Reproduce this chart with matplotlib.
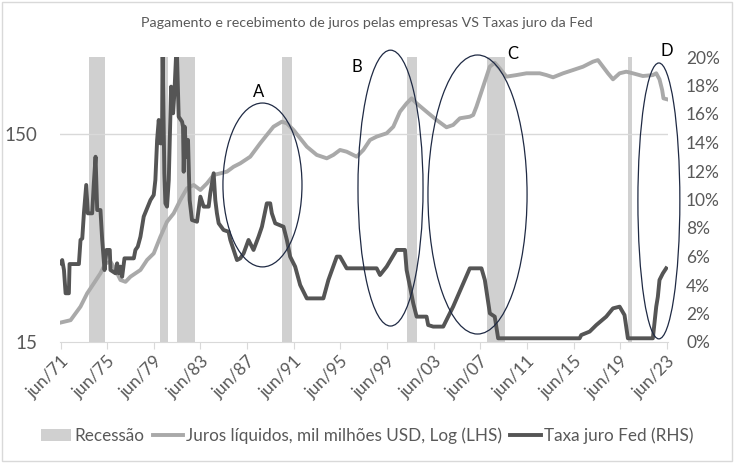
import matplotlib
matplotlib.use("Agg")
import matplotlib.pyplot as plt
from matplotlib.patches import Ellipse, Patch, Rectangle
from matplotlib.lines import Line2D
from matplotlib.ticker import FixedLocator, FuncFormatter

plt.rcParams['font.family'] = ['Lato', 'DejaVu Sans']

TITLE = "Pagamento e recebimento de juros pelas empresas VS Taxas juro da Fed"

# Net interest, billion USD (log, LHS)
juros_anos = [1971.50, 1972.36, 1973.21, 1973.78, 1974.35, 1974.92, 1975.35, 1975.78,
              1976.21, 1976.64, 1977.07, 1977.49, 1978.35, 1978.92, 1979.49, 1980.06,
              1980.63, 1981.20, 1981.77, 1982.34, 1982.92, 1983.49, 1984.06, 1984.63,
              1985.20, 1985.77, 1986.34, 1986.91, 1987.77, 1988.62, 1989.19, 1989.76,
              1990.48, 1990.91, 1991.48, 1992.05, 1992.62, 1993.47, 1994.33, 1994.90,
              1995.47, 1996.04, 1996.90, 1997.47, 1998.04, 1998.61, 1999.47, 2000.04,
              2000.61, 2001.18, 2001.61, 2002.04, 2002.89, 2003.75, 2004.60, 2005.17,
              2005.75, 2006.60, 2006.89, 2007.17, 2007.74, 2008.31, 2008.74, 2009.17,
              2009.74, 2010.60, 2011.46, 2012.60, 2013.17, 2013.74, 2014.60, 2015.45,
              2016.31, 2017.16, 2017.59, 2018.02, 2018.45, 2018.88, 2019.45, 2020.02,
              2020.59, 2021.44, 2022.30, 2022.59, 2022.87, 2023.10, 2023.21, 2023.55]
juros_valores = [18.6, 19.1, 22.2, 25.7, 28.7, 32.1, 35.8, 36.5,
                 33.3, 29.8, 29.2, 30.9, 33.3, 37.2, 40.0, 48.1,
                 56.8, 62.3, 72.2, 82.2, 85.3, 80.7, 86.9, 95.3,
                 97.0, 98.9, 104.4, 108.4, 116.7, 135.3, 148.4, 162.6,
                 171.9, 168.8, 156.8, 143.0, 130.4, 119.0, 114.6, 119.0,
                 125.7, 123.3, 116.7, 125.7, 140.4, 145.7, 151.2, 162.6,
                 192.0, 210.6, 222.6, 210.6, 192.0, 175.2, 161.6, 165.8,
                 178.5, 181.7, 185.1, 203.0, 253.0, 316.0, 330.0, 310.0,
                 283.0, 288.0, 293.7, 293.7, 288.0, 281.0, 293.7, 304.5,
                 316.0, 334.0, 340.0, 316.0, 293.7, 274.8, 293.7, 299.0,
                 293.7, 285.0, 288.0, 293.7, 274.8, 244.0, 222.6, 220.0]

# Fed funds rate, % (RHS)
fed_anos = [1971.50, 1971.64, 1971.79, 1971.93, 1972.21, 1972.27, 1973.07, 1973.21,
            1973.36, 1973.50, 1973.70, 1973.84, 1974.21, 1974.35, 1974.50, 1974.64,
            1974.92, 1975.07, 1975.27, 1975.44, 1975.72, 1975.78, 1976.21, 1976.35,
            1976.49, 1976.64, 1976.78, 1976.98, 1977.78, 1977.92, 1978.12, 1978.35,
            1978.63, 1979.21, 1979.49, 1979.63, 1979.78, 1979.92, 1980.06, 1980.20,
            1980.26, 1980.40, 1980.49, 1980.63, 1980.78, 1980.98, 1981.15, 1981.26,
            1981.40, 1981.49, 1981.63, 1981.92, 1982.00, 1982.06, 1982.14, 1982.29,
            1982.43, 1982.57, 1982.77, 1983.20, 1983.49, 1983.77, 1984.20, 1984.34,
            1984.63, 1984.77, 1984.91, 1985.06, 1985.48, 1985.91, 1986.06, 1986.34,
            1986.63, 1986.91, 1987.20, 1987.62, 1988.05, 1988.48, 1988.77, 1989.19,
            1989.48, 1989.62, 1989.91, 1990.62, 1990.91, 1991.19, 1991.62, 1992.05,
            1992.62, 1994.04, 1994.47, 1995.19, 1995.47, 1996.04, 1998.61, 1998.90,
            1999.47, 2000.32, 2001.04, 2001.18, 2001.47, 2001.75, 2002.04, 2002.89,
            2003.03, 2003.46, 2004.32, 2005.17, 2006.60, 2007.60, 2007.89, 2008.32,
            2008.74, 2009.03, 2016.02, 2016.16, 2016.88, 2017.45, 2018.30, 2018.88,
            2019.45, 2019.87, 2020.16, 2022.30, 2022.59, 2022.73, 2022.87, 2023.16,
            2023.44]
fed_taxa = [5.52, 5.75, 5.05, 3.42, 3.42, 5.47, 5.47, 7.16,
            7.27, 9.03, 11.02, 9.03, 9.03, 11.13, 13.0, 9.26,
            9.26, 7.16, 5.05, 6.46, 6.46, 5.05, 4.82, 5.52,
            4.82, 5.29, 4.58, 5.87, 5.87, 6.46, 6.69, 7.39,
            8.80, 9.96, 10.32, 11.37, 14.18, 15.58, 13.94, 13.94,
            20.0, 11.84, 9.73, 9.50, 11.37, 17.92, 16.05, 17.45,
            20.0, 20.0, 15.81, 15.46, 15.11, 11.95, 15.11, 13.0,
            14.18, 9.96, 8.56, 8.44, 10.20, 9.50, 9.50, 10.43,
            11.84, 9.96, 9.03, 8.33, 7.86, 7.74, 7.16, 6.46,
            5.75, 5.87, 6.22, 7.16, 6.46, 7.39, 8.09, 9.73,
            9.73, 9.03, 8.33, 8.09, 7.16, 5.99, 5.29, 4.0,
            3.06, 3.06, 4.35, 5.99, 5.99, 5.17, 5.17, 4.70,
            5.29, 6.46, 6.46, 5.05, 3.88, 2.71, 1.78, 1.78,
            1.19, 1.08, 1.08, 2.48, 5.17, 5.17, 4.35, 2.01,
            1.78, 0.26, 0.26, 0.49, 0.73, 1.19, 1.78, 2.36,
            2.48, 1.89, 0.26, 0.26, 2.48, 3.18, 4.35, 4.82,
            5.17]

recessao_inicio = [1973.90, 1980.06, 1981.52, 1990.50, 2001.21, 2008.06, 2020.13]
recessao_fim = [1975.35, 1980.75, 1983.06, 1991.36, 2002.07, 2009.60, 2020.47]

tick_anos = [1971.5 + 4 * k for k in range(14)]
tick_labels = ["jun/%02d" % (int(a) % 100) for a in tick_anos]

# annotation ellipses (axes fraction): label, centre, width, height, label pos
elipses = [("A", (0.333, 0.551), 0.130, 0.575, (0.327, 0.877)),
           ("B", (0.5436, 0.540), 0.107, 0.968, (0.4885, 0.965)),
           ("C", (0.6867, 0.5175), 0.163, 0.979, (0.745, 1.010)),
           ("D", (0.985, 0.495), 0.069, 0.968, (0.998, 1.020))]

C_REC = '#d0d0d0'
C_JUROS = '#a9a9a9'
C_FED = '#555555'
C_TXT = '#595959'
C_GRID = '#d9d9d9'

fig = plt.figure(figsize=(7.34, 4.63), dpi=100)
fig.patches.append(Rectangle((0.003, 0.004), 0.994, 0.992, transform=fig.transFigure,
                             fill=False, edgecolor=C_GRID, linewidth=1))

ax = fig.add_axes([60 / 734, (463 - 342) / 463, 608 / 734, 285 / 463])
ax2 = ax.twinx()

### recessions
for a, b in zip(recessao_inicio, recessao_fim):
    ax.axvspan(a, b, color=C_REC, lw=0, zorder=0)

### lines
ax.plot(juros_anos, juros_valores, color=C_JUROS, lw=2.8, zorder=2)
ax2.plot(fed_anos, fed_taxa, color=C_FED, lw=2.8, zorder=3)

ax.set_yscale('log')
ax.set_ylim(15, 15 * 10 ** (285 / 208))
ax.yaxis.set_major_locator(FixedLocator([15, 150]))
ax.yaxis.set_minor_locator(FixedLocator([]))
ax.yaxis.set_major_formatter(FuncFormatter(lambda v, p: "%d" % round(v)))
ax.axhline(150, color=C_GRID, lw=1, zorder=1)

ax2.set_ylim(0, 20)
ax2.set_yticks(range(0, 21, 2))
ax2.set_yticklabels(["%d%%" % v for v in range(0, 21, 2)])

ax.set_xlim(1971.45, 2023.6)
ax.set_xticks(tick_anos)
ax.set_xticklabels(tick_labels, rotation=45, ha='right', rotation_mode='anchor')

for a in (ax, ax2):
    for s in ('top', 'left', 'right'):
        a.spines[s].set_visible(False)
    a.spines['bottom'].set_color(C_GRID)
ax2.spines['bottom'].set_visible(False)

ax.tick_params(axis='x', colors=C_GRID, length=5, labelcolor=C_TXT, labelsize=12.5, pad=3)
ax.tick_params(axis='y', length=0, labelcolor=C_TXT, labelsize=13.5, pad=16)
ax2.tick_params(axis='y', length=0, labelcolor=C_TXT, labelsize=12.5, pad=13)

### ellipses and labels
for lab, c, w, h, pos in elipses:
    ax2.add_patch(Ellipse(c, w, h, transform=ax2.transAxes, fill=False,
                          edgecolor='#1f2a44', lw=0.9, clip_on=False, zorder=5))
    ax2.text(pos[0], pos[1], lab, transform=ax2.transAxes, fontsize=12,
             ha='center', va='center', color='black', zorder=6)

fig.text(0.5, 1 - 23 / 463, TITLE, ha='center', va='center', fontsize=10.3, color=C_TXT)

handles = [Patch(facecolor=C_REC, edgecolor='none'),
           Line2D([], [], color=C_JUROS, lw=2.8),
           Line2D([], [], color=C_FED, lw=2.8)]
labels = ["Recessão", "Juros líquidos, mil milhões USD, Log (LHS)", "Taxa juro Fed (RHS)"]
fig.legend(handles, labels, loc='center', bbox_to_anchor=(0.5, 1 - 436 / 463), ncol=3,
           frameon=False, fontsize=12.3, labelcolor=C_TXT, handlelength=1.8,
           handletextpad=0.15, columnspacing=0.5)

fig.savefig("out.png", dpi=100)
